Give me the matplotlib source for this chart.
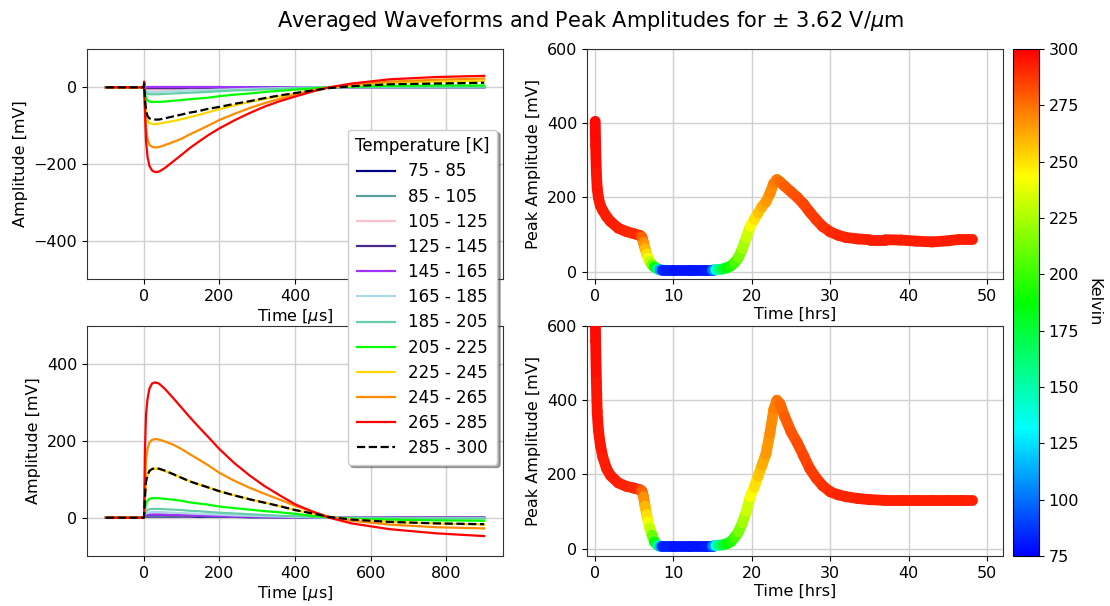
import numpy as np
import matplotlib
matplotlib.use('Agg')
import matplotlib.pyplot as plt
from matplotlib.collections import LineCollection
from matplotlib.colors import LinearSegmentedColormap, Normalize
from matplotlib.cm import ScalarMappable

# ---------------- data ----------------
time_us = [-100, -2, 0, 1, 3, 6, 10, 15, 22, 30, 40, 55, 77, 100, 121, 145, 170,
           200, 240, 280, 320, 360, 400, 446, 490, 550, 650, 775, 900]

temp_bins = ['75 - 85', '85 - 105', '105 - 125', '125 - 145', '145 - 165',
             '165 - 185', '185 - 205', '205 - 225', '225 - 245', '245 - 265',
             '265 - 285', '285 - 300']

# negative polarity (top-left)
neg_75_85 = [0, 0, 0, 1, -1, -2, -3, -3, -3, -3, -3, -3, -3, -3, -2, -2, -2, -2, -1, -1, -1, -1, 0, 0, 0, 0, 0, 0, 0]
neg_85_105 = [0, 0, 0, 1, -2, -3, -4, -4, -4, -4, -4, -4, -4, -3, -3, -3, -3, -2, -2, -2, -1, -1, 0, 0, 0, 0, 0, 0, 0]
neg_105_125 = [0, 0, 0, 1, -3, -5, -6, -6, -6, -6, -6, -6, -5, -5, -5, -4, -4, -3, -3, -2, -2, -1, -1, 0, 0, 0, 0, 0, 0]
neg_125_145 = [0, 0, 0, 1, -1, -2, -2, -2, -2, -2, -2, -2, -2, -2, -1, -1, -1, -1, -1, 0, 0, 0, 0, 0, 0, 0, 0, 0, 0]
neg_145_165 = [0, 0, 0, 1, 0, 0, 1, 1, 1, 1, 1, 1, 1, 1, 1, 1, 1, 1, 0, 0, 0, 0, 0, 0, 0, 0, 0, 0, 0]
neg_165_185 = [0, 0, 0, 2, -6, -10, -12, -12, -12, -12, -12, -11, -10, -9, -8, -8, -7, -6, -5, -4, -3, -2, -1, 0, 0, 0, 0, 0, 0]
neg_185_205 = [0, 0, 0, 3, -8, -14, -17, -18, -18, -18, -18, -17, -16, -15, -14, -13, -12, -10, -8, -7, -5, -4, -2, -1, 0, 1, 1, 1, 1]
neg_205_225 = [0, 0, 0, 5, -15, -28, -34, -37, -38, -38, -38, -37, -35, -33, -31, -29, -27, -23, -19, -16, -12, -9, -6, -3, 0, 2, 4, 5, 5]
neg_225_245 = [0, 0, 0, 8, -32, -68, -86, -93, -95, -96, -95, -92, -88, -83, -78, -72, -65, -57, -47, -38, -30, -23, -16, -8, -1, 5, 11, 15, 17]
neg_245_265 = [0, 0, 0, 12, -45, -105, -135, -150, -155, -157, -156, -151, -143, -134, -123, -112, -100, -85, -69, -54, -41, -30, -19, -8, 0, 7, 15, 20, 23]
neg_265_285 = [0, 0, 0, 15, -60, -140, -182, -205, -217, -221, -220, -211, -194, -176, -159, -142, -125, -107, -86, -67, -50, -36, -24, -11, 0, 10, 21, 27, 30]
neg_285_300 = [0, 0, 0, 10, -28, -60, -75, -81, -83, -84, -84, -81, -76, -71, -66, -62, -56, -51, -43, -36, -28, -21, -15, -8, -2, 3, 8, 10, 12]

# positive polarity (bottom-left)
pos_75_85 = [0, 0, 0, 0, 2, 3, 3, 3, 3, 3, 3, 3, 3, 3, 3, 2, 2, 2, 2, 1, 1, 1, 1, 0, 0, 0, 0, 0, 0]
pos_85_105 = [0, 0, 0, 0, 3, 4, 5, 5, 5, 5, 5, 5, 5, 4, 4, 4, 3, 3, 3, 2, 2, 1, 1, 1, 0, 0, 0, 0, 0]
pos_105_125 = [0, 0, 0, 0, 4, 6, 7, 8, 8, 8, 8, 8, 7, 7, 6, 6, 5, 5, 4, 3, 2, 2, 1, 1, 0, 0, 0, 0, 0]
pos_125_145 = [0, 0, 0, 0, 3, 5, 6, 7, 7, 7, 7, 7, 6, 6, 5, 5, 4, 4, 3, 2, 2, 1, 1, 0, 0, 0, 0, 0, 0]
pos_145_165 = [0, 0, 0, 0, 4, 6, 7, 8, 8, 8, 8, 8, 7, 7, 6, 5, 5, 4, 3, 3, 2, 1, 1, 1, 0, 0, 0, 0, 0]
pos_165_185 = [0, 0, 0, 0, 7, 11, 13, 14, 15, 15, 15, 14, 13, 12, 11, 10, 9, 8, 6, 5, 4, 3, 2, 1, 0, 0, -1, -1, -1]
pos_185_205 = [0, 0, 0, 0, 10, 17, 20, 22, 23, 23, 23, 22, 21, 20, 18, 17, 15, 13, 11, 9, 7, 5, 4, 2, 0, -1, -1, -2, -2]
pos_205_225 = [0, 0, 0, 1, 20, 38, 45, 49, 51, 51, 51, 49, 47, 44, 40, 37, 34, 29, 25, 21, 17, 14, 10, 5, 1, -3, -5, -7, -8]
pos_225_245 = [0, 0, 0, 1, 50, 95, 112, 122, 127, 128, 127, 122, 113, 104, 95, 87, 79, 69, 58, 48, 39, 30, 20, 11, 2, -5, -11, -15, -18]
pos_245_265 = [0, 0, 0, 1, 80, 150, 180, 196, 203, 205, 204, 199, 191, 179, 166, 152, 137, 117, 96, 78, 62, 47, 31, 16, 2, -8, -18, -25, -28]
pos_265_285 = [0, 0, 0, 2, 170, 270, 310, 337, 350, 353, 350, 337, 313, 287, 263, 237, 211, 179, 142, 110, 82, 58, 35, 16, 0, -15, -30, -41, -48]
pos_285_300 = [0, 0, 0, 1, 50, 94, 111, 122, 127, 129, 128, 123, 114, 104, 95, 87, 79, 69, 58, 48, 39, 30, 20, 11, 2, -5, -11, -15, -17]

# peak amplitude history (right panels)
hours = [0.05, 0.1, 0.2, 0.3, 0.45, 0.7, 1.0, 1.5, 2.0, 3.0, 4.0, 5.0, 5.8, 6.0, 6.2,
         6.4, 6.6, 6.8, 7.0, 7.3, 7.6, 8.0, 8.3, 8.6, 10, 12, 14, 15.0, 15.4, 15.8,
         16.3, 16.8, 17.3, 17.8, 18.3, 18.8, 19.3, 19.8, 20.3, 20.8, 21.3, 21.8, 22.3,
         22.8, 23.2, 23.6, 24.2, 25.0, 25.8, 26.6, 27.4, 28.2, 29.0, 30.0, 31, 32,
         33.5, 35, 37, 39, 41, 43, 45, 46.5, 48.0]
temperature_K = [298, 297, 296, 295, 295, 294, 294, 293, 293, 293, 292, 292, 290, 284, 272,
                 264, 255, 246, 236, 222, 200, 172, 135, 85, 80, 80, 80, 84, 125, 150,
                 170, 182, 190, 198, 208, 220, 228, 238, 246, 254, 259, 264, 268,
                 270, 272, 275, 278, 280, 282, 284, 285, 287, 288, 290, 291, 292,
                 292, 293, 293, 293, 293, 293, 293, 293, 293]
peak_neg = [405, 340, 265, 225, 200, 178, 165, 148, 135, 117, 108, 102, 97, 93, 78,
            62, 48, 36, 27, 18, 12, 7, 5, 4, 4, 4, 4, 4, 5, 6,
            7, 10, 15, 24, 38, 62, 92, 122, 140, 158, 175, 188, 210,
            238, 248, 242, 230, 215, 200, 182, 160, 140, 122, 107, 98, 92,
            88, 86, 86, 85, 82, 80, 83, 87, 87]
peak_pos = [640, 560, 450, 370, 320, 280, 248, 215, 197, 177, 168, 163, 158, 155, 140,
            115, 92, 72, 55, 36, 18, 9, 7, 7, 7, 7, 7, 7, 8, 9,
            10, 13, 18, 30, 45, 70, 100, 140, 165, 195, 225, 255, 310,
            375, 400, 390, 355, 315, 285, 250, 215, 190, 170, 153, 145, 140,
            135, 132, 130, 130, 130, 130, 130, 130, 130]

# ---------------- style ----------------
bin_colors = ['navy', 'cadetblue', 'pink', '#4b2a8c', '#a033ff', 'lightblue',
              'mediumaquamarine', 'lime', 'gold', 'darkorange', 'red', 'black']
neg_series = [neg_75_85, neg_85_105, neg_105_125, neg_125_145, neg_145_165, neg_165_185,
              neg_185_205, neg_205_225, neg_225_245, neg_245_265, neg_265_285, neg_285_300]
pos_series = [pos_75_85, pos_85_105, pos_105_125, pos_125_145, pos_145_165, pos_165_185,
              pos_185_205, pos_205_225, pos_225_245, pos_245_265, pos_265_285, pos_285_300]

plt.rcParams['font.family'] = ['DejaVu Sans']
plt.rcParams['font.size'] = 11.5

fig = plt.figure(figsize=(11.1, 6.06), dpi=100)
ax_tl = fig.add_axes([0.0784, 0.5396, 0.3748, 0.3795])
ax_bl = fig.add_axes([0.0784, 0.0825, 0.3748, 0.3795])
ax_tr = fig.add_axes([0.5288, 0.5396, 0.3748, 0.3795])
ax_br = fig.add_axes([0.5288, 0.0825, 0.3748, 0.3795])
cax = fig.add_axes([0.9126, 0.0825, 0.0234, 0.8366])

grid_kw = dict(color='#d0d0d0', linewidth=1.0)

handles = []
for ax, series in ((ax_tl, neg_series), (ax_bl, pos_series)):
    for vals, col, lab in zip(series, bin_colors, temp_bins):
        ls = '--' if col == 'black' else '-'
        ln, = ax.plot(time_us, vals, color=col, ls=ls, lw=1.6, label=lab)
        if ax is ax_tl:
            handles.append(ln)
    ax.set_xlim(-150, 950)
    ax.set_xticks([0, 200, 400, 600, 800])
    ax.set_xlabel(r'Time [$\mu$s]', labelpad=2)
    ax.set_ylabel('Amplitude [mV]')
    ax.grid(True, **grid_kw)
    ax.set_axisbelow(True)

ax_tl.set_ylim(-500, 100)
ax_tl.set_yticks([-400, -200, 0])
ax_bl.set_ylim(-100, 500)
ax_bl.set_yticks([0, 200, 400])

cmap = LinearSegmentedColormap.from_list('temp', ['#0000ff', '#00ffff', '#00ff00', '#ffff00', '#ff0000'])
norm = Normalize(75, 300)

h = np.asarray(hours, dtype=float)
tk = np.asarray(temperature_K, dtype=float)
for ax, peaks in ((ax_tr, peak_neg), (ax_br, peak_pos)):
    p = np.asarray(peaks, dtype=float)
    pts = np.column_stack([h, p]).reshape(-1, 1, 2)
    segs = np.concatenate([pts[:-1], pts[1:]], axis=1)
    lc = LineCollection(segs, cmap=cmap, norm=norm, linewidths=7.8,
                        capstyle='round', joinstyle='round', zorder=3)
    lc.set_array(0.5 * (tk[:-1] + tk[1:]))
    ax.add_collection(lc)
    ax.set_xlim(-1, 52)
    ax.set_ylim(-20, 600)
    ax.set_xticks([0, 10, 20, 30, 40, 50])
    ax.set_yticks([0, 200, 400, 600])
    ax.set_xlabel('Time [hrs]', labelpad=2)
    ax.set_ylabel('Peak Amplitude [mV]')
    ax.grid(True, **grid_kw)
    ax.set_axisbelow(True)

for ax in (ax_tl, ax_bl, ax_tr, ax_br):
    for s in ax.spines.values():
        s.set_color('#333333')

sm = ScalarMappable(norm=norm, cmap=cmap)
cb = fig.colorbar(sm, cax=cax, ticks=[75, 100, 125, 150, 175, 200, 225, 250, 275, 300])
cb.set_label('Kelvin', rotation=270, labelpad=16)

fig.legend(handles=handles, title='Temperature [K]', loc='upper right',
           bbox_to_anchor=(0.448, 0.786), borderaxespad=0.0, fontsize=12,
           title_fontsize=12, shadow=True, framealpha=1, handlelength=2.3,
           borderpad=0.45, labelspacing=0.43)

fig.suptitle(r'Averaged Waveforms and Peak Amplitudes for $\pm$ 3.62 V/$\mu$m',
             fontsize=15, x=0.532, y=0.985)

fig.savefig('out.png', dpi=100)
